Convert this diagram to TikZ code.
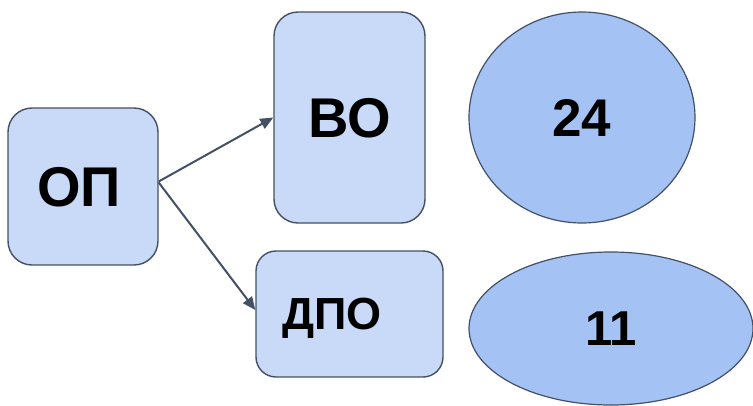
\documentclass[tikz,border=0pt]{standalone}
\usepackage{fontspec}
\setmainfont{Liberation Sans}
\usepackage{tikz}
\usetikzlibrary{arrows.meta, shapes.geometric}

\definecolor{boxfill}{HTML}{C9DAF8}
\definecolor{ovalfill}{HTML}{A4C2F4}
\definecolor{edgecol}{HTML}{435066}

\tikzset{
	box/.style={draw=edgecol, fill=boxfill, line width=1.4pt, rounded corners=24pt,
		inner sep=0pt, text depth=0pt, font=\bfseries},
	oval/.style={ellipse, draw=edgecol, fill=ovalfill, line width=1.2pt,
		inner sep=0pt, text depth=0pt, font=\bfseries},
	link/.style={-{Triangle[length=13pt,width=11pt]}, draw=edgecol, line width=2pt}
}

\begin{document}
\begin{tikzpicture}[x=1pt,y=-1pt]
		
		\useasboundingbox (0,0) rectangle (753,405);
		
		\node[box, minimum height=157pt, text width=92pt, inner xsep=29pt, align=left]
			(op) at (83,186.5) {\fontsize{56}{60}\selectfont ОП};
		\node[box, minimum width=151pt, minimum height=211pt] (vo) at (349.5,117.5)
			{\fontsize{56}{60}\selectfont ВО};
		\node[box, rounded corners=20pt, minimum height=126pt, text width=135pt,
			inner xsep=26pt, align=left] (dpo) at (349.5,314)
			{\fontsize{45}{48}\selectfont ДПО};
		
		\node[oval, minimum width=226pt, minimum height=211pt] (n24) at (582,117.5)
			{\fontsize{53}{56}\selectfont 24};
		\node[oval, minimum width=284pt, minimum height=153pt] (n11) at (611,328.5)
			{\fontsize{49}{52}\selectfont 11};
		
		\draw[link] ([yshift=5pt]op.east) -- (vo.west);
		\draw[link] ([yshift=4pt]op.east) -- ([yshift=4pt]dpo.west);
		
\end{tikzpicture}
\end{document}
